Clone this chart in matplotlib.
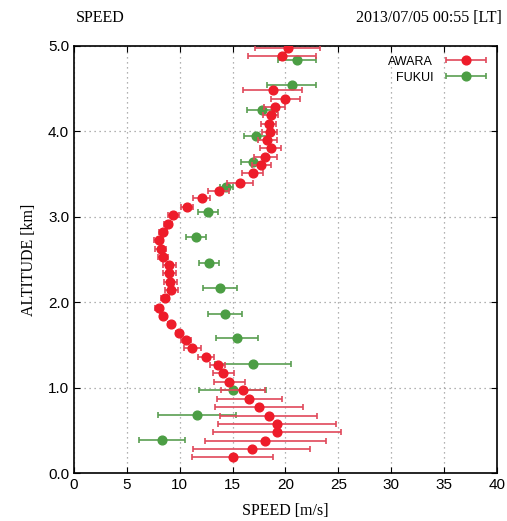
import numpy as np
import matplotlib
matplotlib.use("Agg")
import matplotlib.pyplot as plt
from matplotlib.legend_handler import HandlerErrorbar

# AWARA (red) profile: altitude [km], speed [m/s], error [m/s]
awara_alt = [0.19, 0.28, 0.38, 0.48, 0.57, 0.67, 0.77, 0.87, 0.97, 1.07,
             1.17, 1.26, 1.36, 1.46, 1.56, 1.64, 1.74, 1.84, 1.93, 2.05,
             2.14, 2.24, 2.34, 2.43, 2.53, 2.62, 2.73, 2.82, 2.92, 3.02,
             3.11, 3.22, 3.30, 3.40, 3.51, 3.61, 3.70, 3.80, 3.90, 3.99,
             4.09, 4.19, 4.29, 4.38, 4.48, 4.88, 4.98]
awara_spd = [15.0, 16.8, 18.1, 19.2, 19.2, 18.4, 17.5, 16.6, 16.0, 14.7,
             14.1, 13.6, 12.5, 11.2, 10.6, 9.9, 9.2, 8.4, 8.0, 8.6,
             9.2, 9.1, 9.0, 9.0, 8.4, 8.2, 8.0, 8.4, 8.9, 9.4,
             10.7, 12.1, 13.7, 15.7, 16.9, 17.7, 18.1, 18.6, 18.3, 18.5,
             18.4, 18.6, 19.0, 20.0, 18.8, 19.7, 20.2]
awara_err = [3.8, 5.5, 5.7, 6.1, 5.6, 4.6, 4.2, 3.1, 2.1, 1.45,
             1.0, 0.7, 0.75, 0.8, 0.5, 0.3, 0.3, 0.3, 0.3, 0.4,
             0.6, 0.6, 0.6, 0.6, 0.5, 0.5, 0.4, 0.4, 0.4, 0.5,
             0.6, 0.8, 1.0, 1.2, 1.0, 0.9, 1.1, 1.0, 0.9, 0.7,
             0.7, 0.7, 1.0, 1.4, 2.8, 3.2, 3.1]

# FUKUI (green) profile
fukui_alt = [0.39, 0.68, 0.97, 1.28, 1.58, 1.86, 2.17, 2.46, 2.76, 3.06,
             3.35, 3.64, 3.95, 4.25, 4.54, 4.84]
fukui_spd = [8.3, 11.6, 15.0, 16.9, 15.4, 14.3, 13.8, 12.8, 11.5, 12.7,
             14.4, 16.9, 17.2, 17.8, 20.6, 21.1]
fukui_err = [2.2, 3.7, 3.15, 3.6, 2.0, 1.6, 1.6, 0.95, 0.95, 0.95,
             0.6, 1.1, 1.1, 1.4, 2.3, 1.8]

xticks = [0, 5, 10, 15, 20, 25, 30, 35, 40]
yticks = [0.0, 1.0, 2.0, 3.0, 4.0, 5.0]

serif = ["Liberation Serif", "DejaVu Serif"]
sans = ["Liberation Sans", "DejaVu Sans"]

fig = plt.figure(figsize=(5.07, 5.21), dpi=100)
ax = fig.add_axes([0.146, 0.092, 0.834, 0.820])

ax.errorbar(fukui_spd, fukui_alt, xerr=fukui_err, fmt='o', ms=6.3,
            color='#4c9e44', mec='#4c9e44', ecolor='#5a9e52', elinewidth=1.2,
            capsize=2.5, capthick=1.2, label='FUKUI', zorder=3)
ax.errorbar(awara_spd, awara_alt, xerr=awara_err, fmt='o', ms=6.3,
            color='#ee1c2a', mec='#ee1c2a', ecolor='#e0485a', elinewidth=1.2,
            capsize=2.5, capthick=1.2, label='AWARA', zorder=4)

ax.set_xlim(0, 40)
ax.set_ylim(0, 5)
ax.set_xticks(xticks)
ax.set_yticks(yticks)
ax.set_xticklabels([str(t) for t in xticks], family=sans, fontsize=11)
ax.set_yticklabels([f"{t:.1f}" for t in yticks], family=sans, fontsize=11)
ax.tick_params(direction='in', top=True, right=True, length=4, color='black')
ax.grid(True, linestyle=(0, (1, 3)), color='#999999', linewidth=0.9)
ax.set_axisbelow(True)
for sp in ax.spines.values():
    sp.set_linewidth(1.2)

ax.set_xlabel('SPEED [m/s]', family=serif, fontsize=11.5, labelpad=8)
ax.set_ylabel('ALTITUDE [km]', family=serif, fontsize=11.5, labelpad=8)

fig.text(0.150, 0.966, 'SPEED', family=serif, fontsize=11.5, va='center', ha='left')
fig.text(0.990, 0.966, '2013/07/05 00:55 [LT]', family=serif, fontsize=11.5,
         va='center', ha='right')

handles, labels = ax.get_legend_handles_labels()
ax.legend(handles[::-1], labels[::-1], loc='upper right', frameon=False,
          markerfirst=False, prop={'family': sans, 'size': 9},
          handlelength=3.4, handletextpad=0.9, labelspacing=0.3,
          borderaxespad=0.4,
          handler_map={type(handles[0]): HandlerErrorbar(xerr_size=1.6)})

fig.savefig('out.png', dpi=100)
